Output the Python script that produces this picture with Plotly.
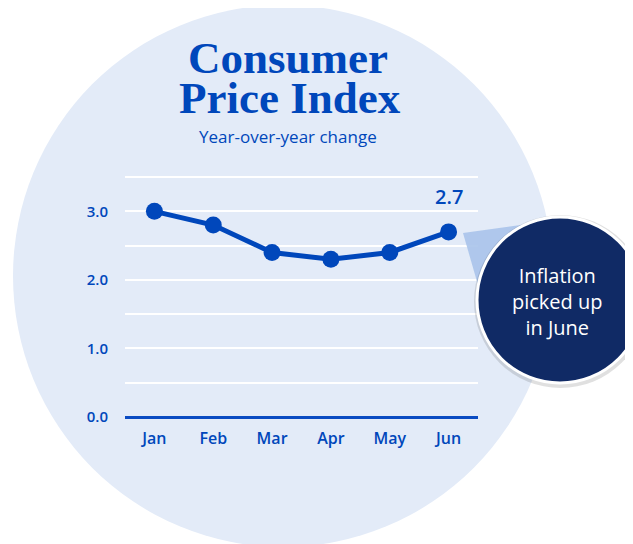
import plotly.graph_objects as go

months = ["Jan", "Feb", "Mar", "Apr", "May", "Jun"]
cpi = [3.0, 2.8, 2.4, 2.3, 2.4, 2.7]
y_ticks = [0, 1, 2, 3]
y_minor = [0.5, 1.5, 2.5, 3.5]
title_lines = ["Consumer", "Price Index"]
subtitle = "Year-over-year change"
callout = "Inflation<br>picked up<br>in June"

BLUE = "#0047bb"
NAVY = "#102a65"
BG_CIRCLE = "#e3ebf8"

# page body adds an 8px offset
OFF = 8
W, H = 633 - OFF, 544 - OFF
# plot area in screen pixels
L, R, T, B = 125, 478, 176, 417


def px(x):
    return (x - L) / (R - L)


def py(y):
    return (B - y) / (B - T)


fig = go.Figure()
fig.add_trace(go.Scatter(
    x=months, y=cpi, mode="lines+markers",
    line=dict(color=BLUE, width=5),
    marker=dict(color=BLUE, size=17),
    cliponaxis=False, hoverinfo="skip"))

shapes = [
    # background circle
    dict(type="circle", xref="paper", yref="paper", layer="below",
         x0=px(13), x1=px(553), y0=py(547), y1=py(5),
         fillcolor=BG_CIRCLE, line=dict(width=0)),
    # wedge to callout
    dict(type="path", xref="paper", yref="paper", layer="above",
         path=f"M {px(463)},{py(233)} L {px(528)},{py(224)} L {px(480)},{py(292)} Z",
         fillcolor="#a9c3ea", opacity=0.9, line=dict(width=0)),
    # shadow
    dict(type="circle", xref="paper", yref="paper", layer="above",
         x0=px(474), x1=px(647), y0=py(388), y1=py(215),
         fillcolor="rgba(0,0,0,0.12)", line=dict(width=0)),
    # callout circle
    dict(type="circle", xref="paper", yref="paper", layer="above",
         x0=px(477), x1=px(643), y0=py(383), y1=py(217),
         fillcolor=NAVY, line=dict(color="white", width=3)),
]

annotations = [
    dict(text=title_lines[0], x=px(288), y=py(58), xref="paper", yref="paper",
         xanchor="center", yanchor="middle", showarrow=False,
         font=dict(family="Liberation Serif", size=45, color=BLUE, weight="bold")),
    dict(text=title_lines[1], x=px(290), y=py(98), xref="paper", yref="paper",
         xanchor="center", yanchor="middle", showarrow=False,
         font=dict(family="Liberation Serif", size=45, color=BLUE, weight="bold")),
    dict(text=subtitle, x=px(288), y=py(137), xref="paper", yref="paper",
         xanchor="center", yanchor="middle", showarrow=False,
         font=dict(family="Open Sans", size=17, color=BLUE)),
    dict(text=callout, x=px(557), y=py(301), xref="paper", yref="paper",
         xanchor="center", yanchor="middle", showarrow=False,
         font=dict(family="Open Sans", size=20, color="white")),
    dict(text=f"{cpi[-1]:.1f}", x=months[-1], y=cpi[-1], xref="x", yref="y",
         yshift=35, xanchor="center", yanchor="middle", showarrow=False,
         font=dict(family="Open Sans", size=20, color=BLUE, weight=600)),
]

fig.update_layout(
    width=W, height=H,
    margin=dict(l=L - OFF, r=W - (R - OFF), t=T - OFF, b=H - (B - OFF)),
    paper_bgcolor="white", plot_bgcolor="rgba(0,0,0,0)",
    showlegend=False, shapes=shapes, annotations=annotations,
    font=dict(family="Open Sans", color=BLUE),
)
fig.update_xaxes(
    range=[-0.5, 5.5], showgrid=False, showline=False, zeroline=False,
    ticks="outside", ticklen=7, tickcolor="rgba(0,0,0,0)",
    tickfont=dict(size=16, color=BLUE, family="Open Sans", weight=600),
)
fig.update_yaxes(
    range=[0, 3.515], tickvals=y_ticks, tickformat=".1f",
    showgrid=True, gridcolor="white", gridwidth=2,
    minor=dict(tickvals=y_minor, showgrid=True, gridcolor="white", gridwidth=2),
    zeroline=True, zerolinecolor="#0a4bc2", zerolinewidth=3,
    ticks="outside", ticklen=13, tickcolor="rgba(0,0,0,0)",
    tickfont=dict(size=15, color=BLUE, family="Open Sans", weight=600),
)

fig.write_html("out.html")
